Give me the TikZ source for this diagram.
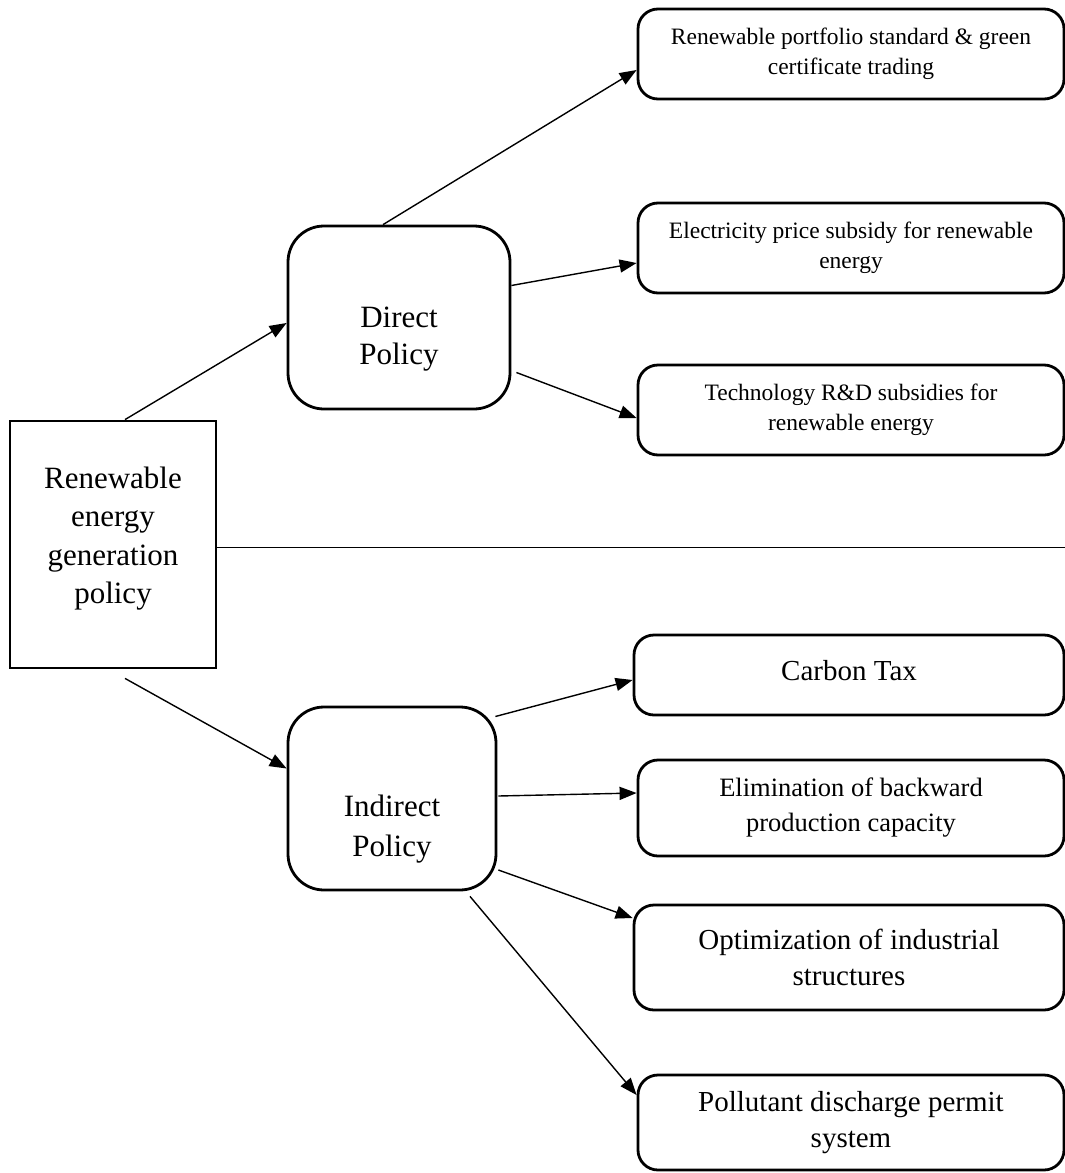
\documentclass[tikz,border=0pt]{standalone}
\usepackage{fontspec}
\setmainfont{Liberation Serif}
\usetikzlibrary{arrows.meta}
\tikzset{
  rootbox/.style={draw, line width=2.8pt, inner sep=0pt,
    minimum width=206pt, minimum height=247pt},
  policy/.style={draw, line width=2.8pt, rounded corners=36pt,
    inner sep=0pt, minimum width=#1, minimum height=183pt},
  bigname/.style={align=center, inner sep=0pt, font=\fontsize{31}{38.5}\selectfont},
  leaf/.style={draw, line width=2.8pt, rounded corners=20pt, align=center,
    inner sep=0pt, minimum width=#1},
  leaf/.default=426pt,
  smalltext/.style={font=\fontsize{23.5}{30}\selectfont},
  midtext/.style={font=\fontsize{26.5}{35}\selectfont},
  bigtext/.style={font=\fontsize{29}{36}\selectfont},
  link/.style={-{Triangle[length=17pt,width=13pt]}, line width=1.4pt}
}
\begin{document}
\begin{tikzpicture}[x=1pt,y=-1pt]
\useasboundingbox (0,0) rectangle (1065,1173);

% left part
\node [rootbox] (root) at (113,544.5) {};
\node [bigname] (roottext) at ([yshift=6pt]root.center) {Renewable\\energy\\generation\\policy};
\node [policy=222pt] (direct) at (399,317.5) {};
\node [bigname, font=\fontsize{31}{37}\selectfont] (directtext) at ([yshift=-22pt]direct.center) {Direct\\Policy};
\node [policy=208pt] (indirect) at (392,798.5) {};
\node [bigname, font=\fontsize{31}{40}\selectfont] (indirecttext) at ([yshift=-31pt]indirect.center) {Indirect\\Policy};

% direct policies
\node [leaf, smalltext, minimum height=90pt] (rps) at (851,54)
  {Renewable portfolio standard \& green\\certificate trading};
\node [leaf, smalltext, minimum height=90pt] (price) at (851,248)
  {Electricity price subsidy for renewable\\energy};
\node [leaf, smalltext, minimum height=90pt] (rnd) at (851,410)
  {Technology R\&D subsidies for\\renewable energy};

% indirect policies
\node [leaf=430pt, bigtext, minimum height=80pt, text depth=10pt] (carbon) at (849,675) {Carbon Tax};
\node [leaf, midtext, minimum height=96pt] (backward) at (851,808)
  {Elimination of backward\\production capacity};
\node [leaf=430pt, bigtext, minimum height=105pt] (industry) at (849,957.5)
  {Optimization of industrial\\structures};
\node [leaf, bigtext, minimum height=95pt] (permit) at (851,1122.5)
  {Pollutant discharge permit\\system};

% separator
\coordinate (sepend) at (1065,547);
\draw [line width=1pt] ([yshift=-2.5pt]root.east) -- (sepend);

% connectors
\draw [link] ([xshift=12pt]root.north) -- ([yshift=-5.5pt]direct.west);
\draw [link] ([xshift=12pt,yshift=-9pt]root.south) -- ([yshift=30pt]indirect.west);

\draw [link] ([xshift=-16pt]direct.north) -- ([yshift=-16pt]rps.west);
\draw [link] ([yshift=32pt]direct.east) -- ([yshift=-15pt]price.west);
\draw [link] ([xshift=5pt,yshift=-55pt]direct.east) -- ([yshift=-8pt]rnd.west);

\draw [link] ([xshift=-2pt,yshift=82pt]indirect.east) -- ([yshift=-5pt]carbon.west);
\draw [link] ([xshift=1pt,yshift=2.5pt]indirect.east) -- ([yshift=15pt]backward.west);
\draw [link] ([xshift=1pt,yshift=-71.5pt]indirect.east) -- ([yshift=39.5pt]industry.west);
\draw [link] ([xshift=78pt,yshift=-5pt]indirect.south) -- ([yshift=27.5pt]permit.west);
\end{tikzpicture}
\end{document}
